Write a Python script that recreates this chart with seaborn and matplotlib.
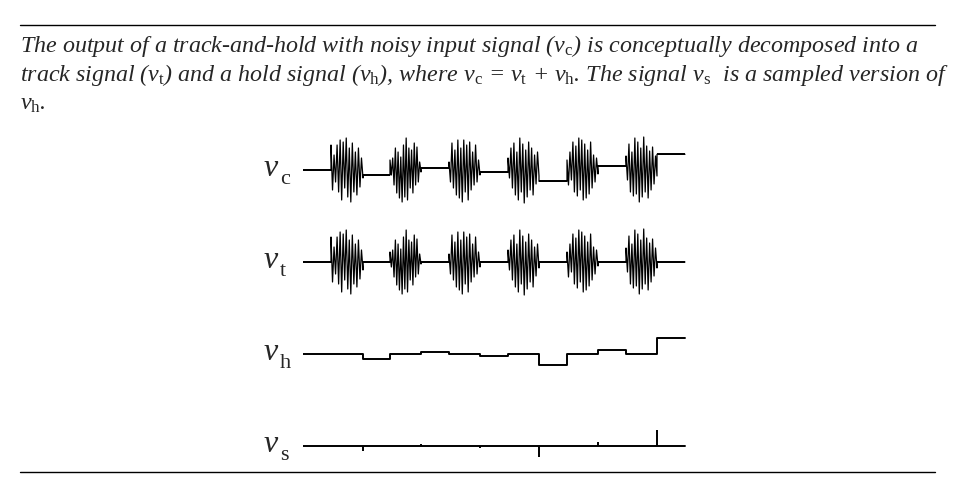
import numpy as np
import pandas as pd
import seaborn as sns
import matplotlib.pyplot as plt
from matplotlib.lines import Line2D

# time axis in pixels measured from the left end of the traces
t_end = 382
burst_start = [28, 87, 146, 205, 264, 323]
burst_stop = [60, 118, 177, 236, 295, 354]

# value held after each burst (pixels, up is positive)
hold_levels = [-5.0, 2.0, -2.2, -11.3, 4.0, 15.7]

# noise seen during each track phase (pixels, up is positive)
burst_1 = [25, -20, 15, -12, 25, -22, 30, -30, 28, -18, 32, -27, 22, -32, 27, -22, 18, -25, 22, -17, 12, -8]
burst_2 = [10, -5, 12, -15, 22, -23, 18, -28, 13, -32, 25, -27, 32, -30, 22, -18, 20, -23, 27, -15, 23, -12, 8, -2]
burst_3 = [8, -12, 27, -18, 20, -25, 30, -28, 22, -32, 30, -22, 25, -30, 28, -20, 18, -15, 25, -12, 10, -5]
burst_4 = [12, -8, 22, -18, 27, -25, 18, -30, 32, -22, 26, -33, 20, -27, 28, -20, 22, -25, 15, -14, 18, -6]
burst_5 = [10, -15, 18, -10, 28, -22, 24, -26, 32, -20, 30, -30, 26, -28, 20, -24, 28, -18, 15, -12, 12, -4]
burst_6 = [14, -10, 26, -22, 18, -26, 32, -24, 28, -32, 22, -27, 33, -22, 24, -28, 19, -20, 23, -14, 14, -6]
bursts = [burst_1, burst_2, burst_3, burst_4, burst_5, burst_6]

row_subs = ['c', 't', 'h', 's']

caption = [
    r'The output of a track-and-hold with noisy input signal ($v_{\mathrm{c}}$) is conceptually decomposed into a',
    r'track signal ($v_{\mathrm{t}}$) and a hold signal ($v_{\mathrm{h}}$), where $v_{\mathrm{c}}$ = $v_{\mathrm{t}}$ + $v_{\mathrm{h}}$. The signal $v_{\mathrm{s}}$  is a sampled version of',
    r'$v_{\mathrm{h}}$.',
]


def trace(with_noise, with_hold):
    t, v = [0.0], [0.0]
    level = 0.0
    for start, stop, noise, hold in zip(burst_start, burst_stop, bursts, hold_levels):
        t.append(start)
        v.append(level)
        if with_noise:
            t.extend(np.linspace(start, stop, len(noise)))
            v.extend(noise)
        else:
            t.extend([start, stop])
            v.extend([0.0, 0.0])
        level = hold if with_hold else 0.0
        t.append(stop)
        v.append(level)
    t.append(t_end)
    v.append(level)
    return pd.DataFrame({'t': t, 'v': v})


sns.set_style('white')
plt.rcParams['font.family'] = ['Liberation Serif', 'DejaVu Serif']
plt.rcParams['mathtext.fontset'] = 'custom'
plt.rcParams['mathtext.rm'] = 'Liberation Serif'
plt.rcParams['mathtext.it'] = 'Liberation Serif:italic'

W, H = 966, 482
fig = plt.figure(figsize=(W / 100, H / 100), dpi=100)

# rules above and below the figure
for y in (25, 472):
    fig.add_artist(Line2D([20 / W, 935 / W], [1 - y / H, 1 - y / H], color='black', lw=1.0))

for i, line in enumerate(caption):
    fig.text(20 / W, 1 - (52 + 29 * i) / H, line, fontsize=17.3, style='italic', va='baseline', ha='left')

row_y = [170, 262, 354, 446]
signals = [trace(True, True), trace(True, False), trace(False, True)]
lw = 1.4
seg_from = [0] + burst_stop
seg_to = burst_start + [t_end]

for k, y in enumerate(row_y):
    ax = fig.add_axes([303 / W, 1 - (y + 40) / H, 383 / W, 80 / H])
    ax.set_xlim(0, 383)
    ax.set_ylim(-40, 40)
    ax.axis('off')
    if k < 2:
        # noisy traces: thin strokes for the noise, held parts drawn as thick as the rest
        sns.lineplot(data=signals[k], x='t', y='v', ax=ax, color='black', linewidth=0.9,
                     estimator=None, sort=False)
        levels = [0.0] + (hold_levels if k == 0 else [0.0] * len(hold_levels))
        ax.hlines(levels, seg_from, seg_to, color='black', lw=lw)
    elif k == 2:
        sns.lineplot(data=signals[k], x='t', y='v', ax=ax, color='black', linewidth=lw,
                     estimator=None, sort=False)
    else:
        ax.plot([0, t_end], [0, 0], color='black', lw=lw)
        ax.vlines(burst_stop, 0, hold_levels, color='black', lw=lw)
    fig.text(264 / W, 1 - (y + 6.5) / H, 'v', fontsize=23, style='italic', ha='left', va='baseline')
    fig.text(280 / W, 1 - (y + 13.5) / H, row_subs[k], fontsize=16, ha='left', va='baseline')

fig.savefig('out.png', dpi=100)
